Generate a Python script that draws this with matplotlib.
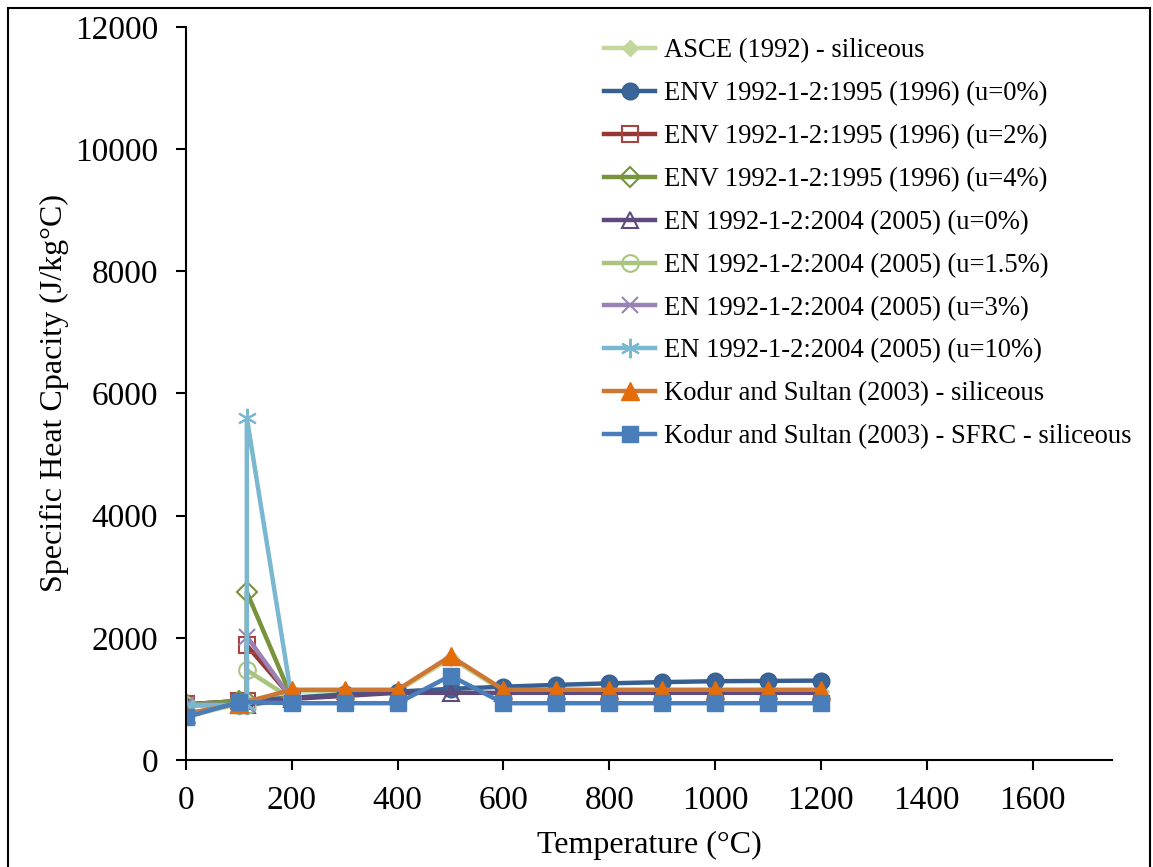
import numpy as np
import matplotlib
matplotlib.use('Agg')
from matplotlib import pyplot as plt
from matplotlib.patches import Rectangle

plt.rcParams['font.family'] = ['Liberation Serif', 'DejaVu Serif']

# temperatures (deg C)
temp_full = [0, 100, 200, 300, 400, 500, 600, 700, 800, 900, 1000, 1100, 1200]
temp_en0 = [0, 100, 115, 200, 300, 400, 500, 600, 700, 800, 900, 1000, 1100, 1200]
temp_peak = [0, 100, 115, 115, 200]

# specific heat values (J/kg C)
asce_sil = [710, 920, 1125, 1125, 1125, 1670, 1125, 1125, 1125, 1125, 1125, 1125, 1125]
env_u0 = [910, 965, 1020, 1075, 1120, 1165, 1200, 1230, 1255, 1275, 1290, 1295, 1300]
env_u2 = [910, 965, 970, 1875, 1020]
env_u4 = [910, 965, 970, 2750, 1020]
en_u0 = [900, 900, 900, 1000, 1050, 1100, 1100, 1100, 1100, 1100, 1100, 1100, 1100, 1100]
en_u15 = [900, 900, 900, 1470, 1000]
en_u3 = [900, 900, 900, 2020, 1000]
en_u10 = [900, 900, 900, 5600, 1000]
kodur_sil = [760, 920, 1150, 1150, 1150, 1700, 1150, 1150, 1150, 1150, 1150, 1150, 1150]
kodur_sfrc = [700, 950, 930, 930, 930, 1380, 930, 930, 930, 930, 930, 930, 930]

labels = ['ASCE (1992) - siliceous',
          'ENV 1992-1-2:1995 (1996) (u=0%)',
          'ENV 1992-1-2:1995 (1996) (u=2%)',
          'ENV 1992-1-2:1995 (1996) (u=4%)',
          'EN 1992-1-2:2004 (2005) (u=0%)',
          'EN 1992-1-2:2004 (2005) (u=1.5%)',
          'EN 1992-1-2:2004 (2005) (u=3%)',
          'EN 1992-1-2:2004 (2005) (u=10%)',
          'Kodur and Sultan (2003) - siliceous',
          'Kodur and Sultan (2003) - SFRC - siliceous']

fig = plt.figure(figsize=(11.53, 8.67), dpi=100)
ax = fig.add_axes([0.1613, 0.1234, 0.8031, 0.8455])

lw = 3.2

# series in legend order, each one drawn over the previous
ax.plot(temp_full, asce_sil, color='#C3D69B', lw=lw, marker='D', ms=8,
        mfc='#C3D69B', mec='#C3D69B', label=labels[0])
ax.plot(temp_full, env_u0, color='#376092', lw=lw, marker='o', ms=12,
        mfc='#3B6498', mec='#376092', label=labels[1])
ax.plot(temp_peak, env_u2, color='#953735', lw=lw, marker='s', ms=11,
        mfc='none', mec='#A64543', mew=1.5, label=labels[2])
ax.plot(temp_peak, env_u4, color='#77933C', lw=lw, marker='D', ms=10,
        mfc='none', mec='#77933C', mew=1.5, label=labels[3])
ax.plot(temp_en0, en_u0, color='#604A7B', lw=lw, marker='^', ms=11,
        mfc='none', mec='#604A7B', mew=1.5, label=labels[4])
ax.plot(temp_peak, en_u15, color='#A9C47F', lw=lw, marker='o', ms=12,
        mfc='none', mec='#A9C47F', mew=1.5, label=labels[5])
ax.plot(temp_peak, en_u3, color='#9983B5', lw=lw, marker='x', ms=11,
        mec='#9983B5', mew=1.5, label=labels[6])
ax.plot(temp_peak, en_u10, color='#79B8D0', lw=lw, marker=(6, 2, 0), ms=14,
        mec='#79B8D0', mew=1.5, label=labels[7])
ax.plot(temp_full, kodur_sil, color='#CC7734', lw=lw, marker='^', ms=13,
        mfc='#E46C0A', mec='#E46C0A', label=labels[8])
ax.plot(temp_full, kodur_sfrc, color='#4A7EBB', lw=lw, marker='s', ms=12,
        mfc='#4A7EBB', mec='#4A7EBB', label=labels[9])

# axes like excel: left and bottom only, outward ticks
ax.set_xlim(0, 1750)
ax.set_ylim(0, 12000)
ax.set_xticks(np.arange(0, 1601, 200))
ax.set_yticks(np.arange(0, 12001, 2000))
for s in ['top', 'right']:
    ax.spines[s].set_visible(False)
for s in ['left', 'bottom']:
    ax.spines[s].set_linewidth(1.5)
ax.tick_params(direction='out', length=7, width=1.5, labelsize=24)
ax.tick_params(axis='y', pad=13)
ax.tick_params(axis='x', pad=11)
for lab in ax.get_xticklabels() + ax.get_yticklabels():
    lab.set_clip_on(False)

ax.set_xlabel('Temperature (°C)', fontsize=23, labelpad=11)
ax.set_ylabel('Specific Heat Cpacity (J/kg°C)', fontsize=23, labelpad=4)

leg = ax.legend(loc='upper left', bbox_to_anchor=(0.515, 0.968),
                bbox_transform=fig.transFigure, frameon=False, fontsize=19.2,
                handlelength=1.9, handletextpad=0.33, labelspacing=0.67,
                borderaxespad=0)

# outer border of the chart area
fig.patches.append(Rectangle((8 / 1153, -0.01), 1142 / 1153, 1 - 8 / 867 + 0.01,
                             transform=fig.transFigure, fill=False,
                             edgecolor='black', lw=1.5))

plt.savefig('out.png', dpi=100)
